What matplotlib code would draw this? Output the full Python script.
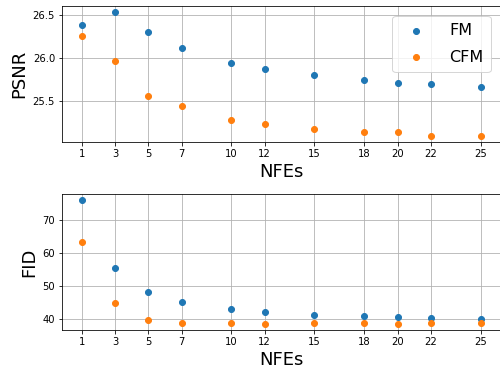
import matplotlib
matplotlib.use("Agg")
import matplotlib.pyplot as plt

# 데이터
nfes = [1, 3, 5, 7, 10, 12, 15, 18, 20, 22, 25]
psnr_fm = [26.38, 26.53, 26.30, 26.11, 25.94, 25.87, 25.80, 25.74, 25.71, 25.69, 25.66]
psnr_cfm = [26.25, 25.96, 25.55, 25.44, 25.28, 25.23, 25.17, 25.13, 25.13, 25.09, 25.09]
fid_fm = [76.1, 55.4, 48.0, 45.1, 42.8, 41.9, 41.1, 40.7, 40.4, 40.3, 40.0]
fid_cfm = [63.2, 44.8, 39.7, 38.8, 38.5, 38.4, 38.5, 38.5, 38.4, 38.6, 38.6]

W, H = 500, 368
fig = plt.figure(figsize=(W / 72, H / 72), dpi=72)

ax1 = fig.add_axes([62 / W, 1 - 142 / H, 438.5 / W, 136 / H])
ax2 = fig.add_axes([62 / W, 1 - 330 / H, 438.5 / W, 136 / H])

ax1.scatter(nfes, psnr_fm, label='FM', zorder=3)
ax1.scatter(nfes, psnr_cfm, label='CFM', zorder=3)
ax1.set_xticks(nfes)
ax1.set_yticks([25.5, 26.0, 26.5])
ax1.set_xlabel('NFEs', fontsize=18)
ax1.set_ylabel('PSNR', fontsize=18)
ax1.grid(True)
ax1.legend(fontsize=16, labelspacing=0.72, borderpad=0.45, handletextpad=1.1,
           borderaxespad=0.62)

ax2.scatter(nfes, fid_fm, label='FM', zorder=3)
ax2.scatter(nfes, fid_cfm, label='CFM', zorder=3)
ax2.set_xticks(nfes)
ax2.set_yticks([40, 50, 60, 70])
ax2.set_xlabel('NFEs', fontsize=18)
ax2.set_ylabel('FID', fontsize=18)
ax2.grid(True)

plt.savefig('out.png', dpi=72)
